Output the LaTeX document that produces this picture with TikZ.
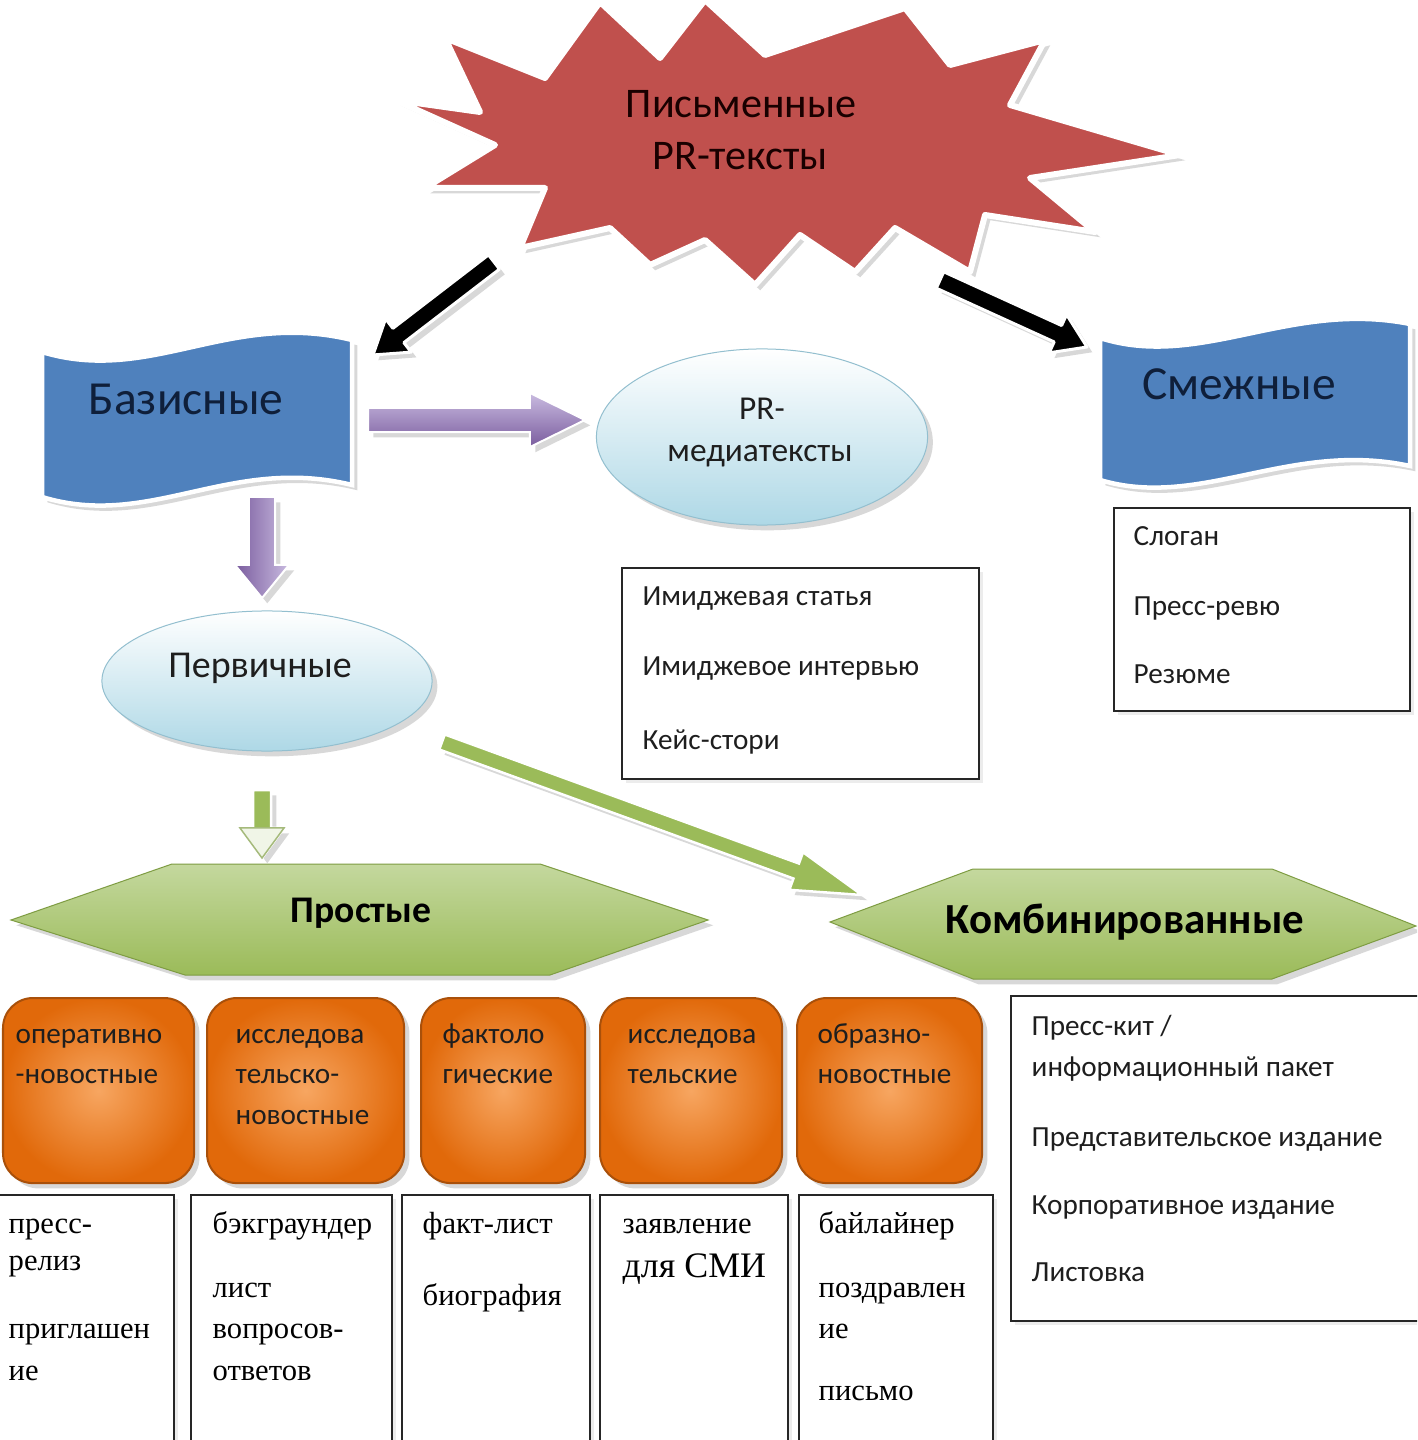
\documentclass[tikz,border=0pt]{standalone}
\usepackage{fontspec}
\setmainfont{Carlito}
\newfontfamily\srfont{Liberation Serif}
\usetikzlibrary{calc,shadows,shapes.geometric,arrows.meta}
\definecolor{starred}{HTML}{C0504D}
\definecolor{bannerblue}{HTML}{4F81BD}
\definecolor{navytext}{HTML}{0F1F3A}
\definecolor{lavlight}{HTML}{C9BBE0}
\definecolor{lavdark}{HTML}{7A5C9E}
\definecolor{grnlight}{HTML}{C4D89E}
\definecolor{grnmid}{HTML}{9BBB59}
\definecolor{grndark}{HTML}{7E9C42}
\definecolor{skybot}{HTML}{AED8E6}
\definecolor{skyedge}{HTML}{93BFCF}
\definecolor{orin}{HTML}{F7A661}
\definecolor{orout}{HTML}{E1690A}
\definecolor{oredge}{HTML}{A9500A}
\definecolor{txt}{HTML}{1E1E1E}
\newcommand\blockarr[6]{%
  \coordinate (ba-h) at ($(#2)!#5!(#1)$);
  \path[#6] ($(#1)!#3!90:(#2)$) -- ($(ba-h)!#3!90:(#2)$) -- ($(ba-h)!#4!90:(#2)$)
    -- (#2) -- ($(ba-h)!#4!-90:(#2)$) -- ($(ba-h)!#3!-90:(#2)$) -- ($(#1)!#3!-90:(#2)$) -- cycle;%
}
\begin{document}
\begin{tikzpicture}[x=0.01cm,y=-0.01cm,
  shd/.style={drop shadow={opacity=0.3,shadow xshift=1.5pt,shadow yshift=-1.5pt}},
  hd/.style={inner sep=0, anchor=base, text=txt},
  sm/.style={inner sep=0, anchor=base west, text=txt, font=\fontsize{8.3}{10}\selectfont},
  sr/.style={inner sep=0, anchor=base west, text=black, font=\srfont\fontsize{8.7}{10}\selectfont},
  blk/.style={fill=black, draw=white, line width=0.03cm, line join=round, shd},
  purH/.style={top color=lavlight, bottom color=lavdark, draw=white, line width=0.02cm, shd},
  purV/.style={left color=lavdark, right color=lavlight, draw=white, line width=0.02cm, shd},
  grn/.style={fill=grnmid, draw=white, line width=0.025cm, shd},
  banner/.style={fill=bannerblue, draw=white, line width=0.045cm, shd},
  ell/.style={ellipse, draw=skyedge, line width=0.01cm, top color=white, bottom color=skybot, inner sep=0, shd},
  hexg/.style={top color=grnlight, bottom color=grnmid, draw=grndark, line width=0.01cm, shd},
  obox/.style={rounded corners=0.3cm, draw=oredge, line width=0.02cm, inner color=orin, outer color=orout, inner sep=0, anchor=north west, shd},
  wbox/.style={draw=black!85, line width=0.022cm, fill=white, inner sep=0, anchor=north west,
    drop shadow={opacity=0.15,shadow xshift=1pt,shadow yshift=-1pt}}
]
\useasboundingbox (0,0) rectangle (1417,1440);
\clip (0,0) rectangle (1417,1440);
\fill[white] (0,0) rectangle (1417,1440);

% star
\path[fill=starred, draw=white, line width=0.06cm, line join=round, shd]
  (395,100) -- (480,112) -- (445,38) -- (545,78) -- (600,2) -- (660,58) -- (705,0) -- (765,55)
  -- (905,8) -- (950,65) -- (1045,40) -- (1010,105) -- (1180,155) -- (1030,178) -- (1095,232)
  -- (985,215) -- (970,272) -- (895,228) -- (855,272) -- (800,235) -- (755,285) -- (705,240)
  -- (650,265) -- (610,228) -- (520,248) -- (545,188) -- (425,188) -- (495,145) -- cycle;
\node[hd, font=\fontsize{12}{14}\selectfont, text=black!90!red] (st1) at (741,118) {Письменные};
\node[hd, font=\fontsize{12}{14}\selectfont, text=black!90!red] (st2) at (740,170) {PR-тексты};
\coordinate (sL) at (494,262);
\coordinate (sR) at (940,280);

% banners
\path[banner] (42,352) .. controls (150,385) and (230,310) .. (352,340) -- (352,485)
  .. controls (230,455) and (150,530) .. (42,497) -- cycle;
\node[hd, font=\fontsize{13.5}{16}\selectfont, text=navytext] (bas) at (186,415) {Базисные};
\coordinate (basT) at (373,355);
\path[banner] (1100,338) .. controls (1200,370) and (1290,300) .. (1410,324) -- (1410,466)
  .. controls (1290,440) and (1200,510) .. (1100,480) -- cycle;
\node[hd, font=\fontsize{13.5}{16}\selectfont, text=navytext] (sme) at (1239,400) {Смежные};
\coordinate (smeT) at (1087,347);

% black arrows
\blockarr{sL}{basT}{0.09cm}{0.21cm}{0.32cm}{blk}
\blockarr{sR}{smeT}{0.09cm}{0.21cm}{0.32cm}{blk}

% purple arrows
\coordinate (ph1) at (368,420); \coordinate (ph2) at (585,420);
\blockarr{ph1}{ph2}{0.12cm}{0.27cm}{0.55cm}{purH}
\coordinate (pv1) at (262,497); \coordinate (pv2) at (262,598);
\blockarr{pv1}{pv2}{0.13cm}{0.27cm}{0.33cm}{purV}

% ellipses
\node[ell, minimum width=3.31cm, minimum height=1.76cm] (pre) at (762,437) {};
\node[hd, font=\fontsize{9.5}{11}\selectfont] (pre1) at (762,420) {PR-};
\node[hd, font=\fontsize{9.5}{11}\selectfont] (pre2) at (760,462) {медиатексты};
\node[ell, minimum width=3.30cm, minimum height=1.40cm] (per) at (267,681) {};
\node[hd, font=\fontsize{10.8}{12}\selectfont] (per1) at (260,677) {Первичные};

% list boxes right
\node[wbox, minimum width=3.57cm, minimum height=2.11cm] (lpr) at (621,567) {};
\node[sm] (lpr1) at (642,605) {Имиджевая статья};
\node[sm] (lpr2) at (642,675) {Имиджевое интервью};
\node[sm] (lpr3) at (642,749) {Кейс-стори};
\node[wbox, minimum width=2.96cm, minimum height=2.03cm] (lsm) at (1113,507) {};
\node[sm] (lsm1) at (1133,545) {Слоган};
\node[sm] (lsm2) at (1133,615) {Пресс-ревю};
\node[sm] (lsm3) at (1133,683) {Резюме};

% green arrows
\coordinate (gv1) at (262,790); \coordinate (gv2) at (262,858);
\blockarr{gv1}{gv2}{0.09cm}{0.22cm}{0.3cm}{grn}
\path[fill=grnlight!25!white, draw=grndark!70, line width=0.015cm]
  ($(ba-h)!0.22cm!90:(gv2)$) -- (gv2) -- ($(ba-h)!0.22cm!-90:(gv2)$) -- cycle;
\coordinate (gd1) at (442,742); \coordinate (gd2) at (862,895);
\blockarr{gd1}{gd2}{0.08cm}{0.2cm}{0.7cm}{grn}

% hexagons
\path[hexg] (11,920) -- (172,864) -- (540,864) -- (708,920) -- (550,975) -- (185,975) -- cycle;
\node[hd, font=\bfseries\fontsize{10.7}{12}\selectfont, text=black] (pro) at (361,922) {Простые};
\path[hexg] (830,922) -- (973,869) -- (1272,869) -- (1416,926) -- (1272,979) -- (973,979) -- cycle;
\node[hd, font=\bfseries\fontsize{12.2}{14}\selectfont, text=black] (kom) at (1125,933) {Комбинированные};

% combined list
\node[wbox, minimum width=4.15cm, minimum height=3.25cm] (lkm) at (1010,995) {};
\node[sm] (lkm1) at (1031,1035) {Пресс-кит /};
\node[sm] (lkm2) at (1031,1076) {информационный пакет};
\node[sm] (lkm3) at (1031,1146) {Представительское издание};
\node[sm] (lkm4) at (1031,1214) {Корпоративное издание};
\node[sm] (lkm5) at (1031,1281) {Листовка};

% orange boxes
\node[obox, minimum width=1.91cm, minimum height=1.85cm] (o1) at (2,997) {};
\node[obox, minimum width=1.97cm, minimum height=1.85cm] (o2) at (206,997) {};
\node[obox, minimum width=1.64cm, minimum height=1.85cm] (o3) at (420,997) {};
\node[obox, minimum width=1.82cm, minimum height=1.85cm] (o4) at (599,997) {};
\node[obox, minimum width=1.85cm, minimum height=1.85cm] (o5) at (796,997) {};
\node[sm] (o1a) at (15,1043) {оперативно};
\node[sm] (o1b) at (15,1083) {-новостные};
\node[sm] (o2a) at (235,1043) {исследова};
\node[sm] (o2b) at (235,1083) {тельско-};
\node[sm] (o2c) at (235,1124) {новостные};
\node[sm] (o3a) at (442,1043) {фактоло};
\node[sm] (o3b) at (442,1083) {гические};
\node[sm] (o4a) at (627,1043) {исследова};
\node[sm] (o4b) at (627,1083) {тельские};
\node[sm] (o5a) at (817,1043) {образно-};
\node[sm] (o5b) at (817,1083) {новостные};

% bottom boxes
\node[wbox, minimum width=1.78cm, minimum height=3cm] (b1) at (-5,1194) {};
\node[wbox, minimum width=2.01cm, minimum height=3cm] (b2) at (190,1194) {};
\node[wbox, minimum width=1.88cm, minimum height=3cm] (b3) at (401,1194) {};
\node[wbox, minimum width=1.88cm, minimum height=3cm] (b4) at (599,1194) {};
\node[wbox, minimum width=1.94cm, minimum height=3cm] (b5) at (798,1194) {};
\node[sr] (b1a) at (8,1233) {пресс-};
\node[sr] (b1b) at (8,1270) {релиз};
\node[sr] (b1c) at (8,1338) {приглашен};
\node[sr] (b1d) at (8,1380) {ие};
\node[sr] (b2a) at (212,1233) {бэкграундер};
\node[sr] (b2b) at (212,1297) {лист};
\node[sr] (b2c) at (212,1338) {вопросов-};
\node[sr] (b2d) at (212,1380) {ответов};
\node[sr] (b3a) at (422,1233) {факт-лист};
\node[sr] (b3b) at (422,1305) {биография};
\node[sr] (b4a) at (622,1233) {заявление};
\node[sr, font=\srfont\fontsize{10.2}{12}\selectfont] (b4b) at (622,1277) {для СМИ};
\node[sr] (b5a) at (818,1233) {байлайнер};
\node[sr] (b5b) at (818,1297) {поздравлен};
\node[sr] (b5c) at (818,1338) {ие};
\node[sr] (b5d) at (818,1400) {письмо};
\end{tikzpicture}
\end{document}
